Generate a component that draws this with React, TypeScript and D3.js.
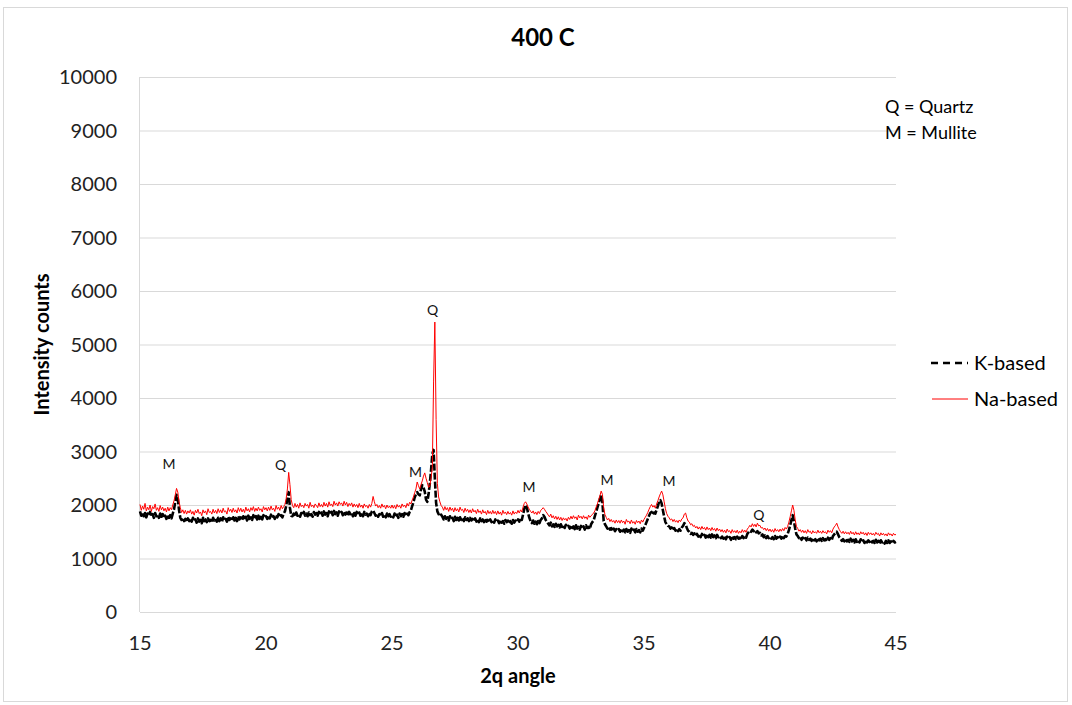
import React from "react";
import * as d3 from "d3";

// XRD scan, 2θ from 15° to 45° in 0.05° steps (one row of 20 readings per degree)
const scanStart = 15;
const scanStep = 0.05;

// Intensity counts, K-based geopolymer
const kBased = [
  1880, 1800, 1860, 1790, 1850, 1770, 1840, 1800, 1870, 1780, 1830, 1760, 1850, 1790, 1820, 1760, 1840, 1780, 1830, 1770,
  1800, 1740, 1820, 1760, 1810, 1750, 1840, 1920, 2060, 2190, 2120, 1900, 1760, 1720, 1760, 1700, 1740, 1690, 1750, 1700,
  1740, 1690, 1760, 1700, 1730, 1670, 1750, 1690, 1720, 1660, 1760, 1700, 1730, 1680, 1750, 1700, 1720, 1670, 1760, 1710,
  1740, 1690, 1760, 1700, 1750, 1680, 1770, 1710, 1740, 1690, 1780, 1720, 1750, 1700, 1770, 1710, 1760, 1700, 1790, 1730,
  1770, 1720, 1790, 1730, 1780, 1710, 1800, 1740, 1770, 1720, 1810, 1750, 1790, 1730, 1800, 1740, 1780, 1730, 1810, 1760,
  1790, 1740, 1800, 1750, 1820, 1760, 1790, 1740, 1810, 1770, 1830, 1780, 1810, 1770, 1840, 1880, 1980, 2120, 2240, 1950,
  1800, 1790, 1840, 1790, 1860, 1800, 1830, 1780, 1850, 1810, 1870, 1800, 1840, 1790, 1860, 1810, 1830, 1780, 1870, 1820,
  1850, 1800, 1870, 1810, 1860, 1800, 1880, 1820, 1850, 1790, 1880, 1830, 1870, 1810, 1890, 1830, 1860, 1800, 1880, 1840,
  1870, 1810, 1880, 1820, 1860, 1800, 1870, 1830, 1860, 1790, 1850, 1800, 1870, 1820, 1860, 1800, 1850, 1790, 1870, 1820,
  1840, 1790, 1860, 1810, 1880, 1900, 1850, 1800, 1840, 1780, 1830, 1790, 1850, 1780, 1820, 1770, 1840, 1790, 1830, 1780,
  1810, 1770, 1840, 1780, 1820, 1760, 1840, 1790, 1830, 1780, 1850, 1800, 1840, 1810, 1870, 1900, 1980, 2050, 2140, 2200,
  2240, 2200, 2180, 2290, 2370, 2330, 2250, 2100, 2060, 2200, 2400, 2650, 2950, 3030, 2500, 2040, 1880, 1830, 1790, 1820,
  1780, 1730, 1790, 1740, 1770, 1710, 1790, 1730, 1760, 1700, 1780, 1720, 1760, 1710, 1770, 1720, 1750, 1700, 1770, 1720,
  1750, 1700, 1760, 1710, 1740, 1690, 1750, 1690, 1730, 1680, 1750, 1700, 1730, 1680, 1740, 1690, 1720, 1670, 1730, 1680,
  1720, 1670, 1730, 1680, 1710, 1660, 1720, 1670, 1700, 1650, 1720, 1680, 1710, 1660, 1700, 1650, 1720, 1670, 1710, 1680,
  1730, 1690, 1760, 1720, 1820, 1930, 2000, 1960, 1850, 1760, 1700, 1660, 1710, 1650, 1690, 1640, 1700, 1660, 1720, 1750,
  1810, 1780, 1720, 1690, 1650, 1620, 1670, 1600, 1640, 1590, 1650, 1600, 1630, 1580, 1640, 1590, 1620, 1570, 1630, 1590,
  1610, 1560, 1620, 1570, 1600, 1550, 1620, 1560, 1590, 1540, 1610, 1560, 1600, 1540, 1620, 1570, 1590, 1550, 1640, 1680,
  1710, 1790, 1870, 1950, 2030, 2110, 2190, 2050, 1700, 1640, 1600, 1560, 1590, 1540, 1570, 1520, 1560, 1510, 1550, 1520,
  1550, 1500, 1560, 1510, 1540, 1490, 1550, 1500, 1530, 1480, 1560, 1510, 1540, 1490, 1550, 1500, 1530, 1490, 1560, 1520,
  1570, 1620, 1680, 1740, 1800, 1850, 1870, 1820, 1860, 1840, 1910, 1980, 2060, 2090, 2030, 1900, 1780, 1680, 1640, 1610,
  1600, 1560, 1580, 1530, 1570, 1520, 1560, 1510, 1550, 1520, 1580, 1610, 1660, 1640, 1570, 1520, 1500, 1460, 1480, 1440,
  1470, 1430, 1460, 1410, 1450, 1400, 1460, 1410, 1440, 1390, 1450, 1400, 1440, 1390, 1450, 1400, 1430, 1380, 1440, 1400,
  1420, 1380, 1410, 1370, 1420, 1360, 1410, 1370, 1400, 1350, 1420, 1370, 1400, 1360, 1410, 1370, 1390, 1350, 1420, 1380,
  1420, 1390, 1460, 1490, 1520, 1500, 1540, 1510, 1530, 1490, 1510, 1470, 1480, 1430, 1450, 1400, 1430, 1380, 1420, 1380,
  1410, 1370, 1400, 1360, 1420, 1370, 1400, 1360, 1410, 1370, 1430, 1380, 1420, 1410, 1460, 1530, 1620, 1720, 1810, 1700,
  1560, 1450, 1420, 1380, 1400, 1350, 1390, 1340, 1380, 1340, 1390, 1350, 1370, 1330, 1380, 1340, 1360, 1320, 1380, 1340,
  1370, 1330, 1380, 1340, 1360, 1320, 1390, 1350, 1380, 1350, 1420, 1450, 1480, 1500, 1450, 1400, 1370, 1330, 1360, 1320,
  1360, 1320, 1350, 1310, 1370, 1320, 1350, 1300, 1360, 1310, 1340, 1300, 1360, 1310, 1340, 1290, 1350, 1300, 1340, 1310,
  1340, 1300, 1330, 1290, 1350, 1300, 1330, 1280, 1340, 1300, 1320, 1280, 1330, 1290, 1340, 1290, 1320, 1280, 1330, 1300,
  1310,
];

// Intensity counts, Na-based geopolymer
const naBased = [
  2010, 1900, 1980, 1920, 2030, 1890, 1960, 1910, 2000, 1880, 1970, 1930, 2020, 1900, 1950, 1880, 1990, 1910, 1960, 1890,
  1940, 1870, 1960, 1890, 1950, 1910, 2000, 2080, 2190, 2310, 2240, 2060, 1950, 1860, 1910, 1840, 1900, 1830, 1890, 1850,
  1910, 1830, 1880, 1810, 1900, 1850, 1920, 1840, 1870, 1800, 1910, 1850, 1890, 1820, 1930, 1860, 1880, 1830, 1920, 1850,
  1900, 1840, 1930, 1860, 1910, 1850, 1940, 1870, 1890, 1830, 1950, 1880, 1920, 1860, 1940, 1870, 1910, 1850, 1950, 1880,
  1940, 1870, 1920, 1860, 1960, 1890, 1930, 1870, 1950, 1900, 1970, 1880, 1940, 1890, 1960, 1900, 1930, 1870, 1970, 1910,
  1950, 1890, 1960, 1900, 1980, 1910, 1940, 1880, 1990, 1920, 1960, 1900, 1990, 1930, 1970, 2010, 2120, 2300, 2610, 2380,
  2100, 1990, 1950, 2030, 1960, 2010, 1940, 2040, 1970, 2000, 1950, 2030, 1980, 2010, 1940, 2050, 1970, 2000, 1950, 2020,
  1990, 1950, 2040, 1970, 2010, 1960, 2050, 1980, 2030, 1960, 2060, 1990, 2020, 1970, 2070, 2000, 2040, 1980, 2060, 2010,
  2040, 1980, 2070, 2000, 2050, 1970, 2030, 1990, 2040, 1960, 2020, 1970, 2010, 1950, 2030, 1960, 2000, 1940, 2020, 1970,
  1990, 1940, 2010, 1960, 2030, 2160, 2060, 1980, 2010, 1950, 1990, 1940, 2020, 1960, 1990, 1930, 2000, 1950, 1980, 1940,
  2000, 1940, 1990, 1930, 2010, 1960, 1990, 1940, 2020, 1970, 2000, 1950, 2030, 1980, 2050, 2020, 2090, 2150, 2230, 2300,
  2430, 2360, 2300, 2380, 2450, 2540, 2600, 2500, 2420, 2330, 2350, 2500, 2700, 4300, 5420, 3600, 2400, 2150, 2060, 1990,
  1960, 1900, 1970, 1910, 1950, 1880, 1960, 1900, 1940, 1870, 1950, 1890, 1930, 1870, 1960, 1900, 1920, 1860, 1940, 1880,
  1920, 1860, 1910, 1850, 1930, 1870, 1900, 1840, 1920, 1860, 1890, 1830, 1910, 1850, 1880, 1820, 1900, 1840, 1880, 1830,
  1900, 1840, 1880, 1820, 1890, 1830, 1870, 1810, 1900, 1840, 1870, 1820, 1880, 1830, 1860, 1810, 1890, 1830, 1870, 1840,
  1900, 1850, 1910, 1870, 1960, 2030, 2060, 2020, 1960, 1920, 1880, 1850, 1890, 1830, 1870, 1820, 1880, 1840, 1900, 1920,
  1950, 1920, 1880, 1850, 1810, 1780, 1830, 1760, 1800, 1740, 1790, 1730, 1780, 1720, 1770, 1710, 1760, 1720, 1750, 1700,
  1770, 1730, 1790, 1740, 1800, 1750, 1780, 1720, 1810, 1760, 1790, 1740, 1800, 1750, 1780, 1730, 1810, 1770, 1800, 1820,
  1850, 1890, 1960, 2020, 2100, 2170, 2260, 2200, 1950, 1820, 1770, 1720, 1750, 1690, 1730, 1680, 1710, 1660, 1720, 1670,
  1710, 1660, 1720, 1670, 1700, 1640, 1730, 1680, 1700, 1650, 1720, 1660, 1690, 1640, 1710, 1670, 1700, 1650, 1720, 1680,
  1730, 1770, 1810, 1860, 1920, 1970, 2010, 1960, 1990, 1940, 2020, 2080, 2150, 2210, 2260, 2190, 2060, 1930, 1840, 1790,
  1760, 1720, 1740, 1690, 1730, 1680, 1710, 1670, 1720, 1690, 1740, 1760, 1830, 1850, 1760, 1700, 1680, 1630, 1650, 1600,
  1620, 1570, 1600, 1550, 1590, 1540, 1600, 1550, 1580, 1530, 1590, 1540, 1570, 1520, 1580, 1530, 1560, 1510, 1570, 1520,
  1550, 1500, 1540, 1490, 1530, 1480, 1550, 1500, 1520, 1470, 1540, 1490, 1520, 1480, 1530, 1470, 1510, 1480, 1540, 1490,
  1530, 1490, 1550, 1580, 1620, 1590, 1650, 1600, 1640, 1590, 1660, 1610, 1620, 1570, 1580, 1540, 1570, 1520, 1560, 1510,
  1550, 1500, 1540, 1490, 1560, 1510, 1540, 1500, 1550, 1510, 1560, 1520, 1580, 1550, 1600, 1680, 1780, 1890, 2000, 1900,
  1720, 1600, 1560, 1510, 1540, 1490, 1530, 1480, 1520, 1470, 1540, 1490, 1510, 1460, 1520, 1480, 1500, 1470, 1530, 1480,
  1510, 1470, 1520, 1480, 1500, 1460, 1530, 1490, 1520, 1480, 1550, 1590, 1620, 1660, 1590, 1540, 1500, 1470, 1510, 1460,
  1500, 1460, 1490, 1450, 1510, 1460, 1490, 1440, 1500, 1450, 1480, 1440, 1500, 1460, 1490, 1440, 1480, 1430, 1490, 1450,
  1480, 1440, 1470, 1430, 1490, 1450, 1470, 1420, 1480, 1440, 1470, 1430, 1460, 1420, 1480, 1440, 1460, 1420, 1470, 1440,
  1450,
];

// Phase markers: label, 2θ position, count level
const peakLabels = ["M", "Q", "M", "Q", "M", "M", "M", "Q"];
const peakAngles = [16.15, 20.58, 25.93, 26.61, 30.44, 33.53, 35.99, 39.56];
const peakCounts = [2673, 2654, 2523, 5551, 2243, 2374, 2364, 1720];

const xTicks = [15, 20, 25, 30, 35, 40, 45];
const yTicks = [0, 1000, 2000, 3000, 4000, 5000, 6000, 7000, 8000, 9000, 10000];

const seriesNames = ["K-based", "Na-based"];
const phaseKey = ["Q = Quartz", "M = Mullite"];

const W = 1072;
const H = 705;
const plot = { left: 140, right: 896, top: 77, bottom: 612 };
const font = "Lato, 'Open Sans', sans-serif";
const gridColor = "#d9d9d9";

export default function App() {
  const x = d3.scaleLinear().domain([15, 45]).range([plot.left, plot.right]);
  const y = d3.scaleLinear().domain([0, 10000]).range([plot.bottom, plot.top]);

  const toPoints = (vals: number[]) =>
    vals.map((v, i) => [scanStart + i * scanStep, v] as [number, number]);

  const line = d3
    .line<[number, number]>()
    .x((d) => x(d[0]))
    .y((d) => y(d[1]));

  const kPath = line(toPoints(kBased)) || "";
  const naPath = line(toPoints(naBased)) || "";

  return (
    <svg
      width={W}
      height={H}
      style={{ position: "absolute", left: 0, top: 0, background: "#fff" }}
    >
      <rect x={3.5} y={7.5} width={1064} height={694} fill="#fff" stroke={gridColor} />

      <text
        x={543}
        y={46}
        textAnchor="middle"
        fontFamily={font}
        fontWeight="bold"
        fontSize={24}
        fill="#000"
      >
        400 C
      </text>

      {/* gridlines */}
      {yTicks.map((t) => (
        <line
          key={"g" + t}
          x1={plot.left}
          x2={plot.right}
          y1={y(t) + 0.5}
          y2={y(t) + 0.5}
          stroke={gridColor}
          strokeWidth={1}
        />
      ))}
      <line
        x1={plot.left - 0.5}
        x2={plot.left - 0.5}
        y1={plot.top}
        y2={plot.bottom}
        stroke={gridColor}
        strokeWidth={1}
      />

      {/* y tick labels */}
      {yTicks.map((t) => (
        <text
          key={"yl" + t}
          x={117}
          y={y(t)}
          dy="0.35em"
          textAnchor="end"
          fontFamily={font}
          fontSize={20}
          fill="#222"
        >
          {t}
        </text>
      ))}

      {/* x tick labels */}
      {xTicks.map((t) => (
        <text
          key={"xl" + t}
          x={x(t)}
          y={650}
          textAnchor="middle"
          fontFamily={font}
          fontSize={20}
          fill="#222"
        >
          {t}
        </text>
      ))}

      <text
        x={518}
        y={683}
        textAnchor="middle"
        fontFamily={font}
        fontWeight="bold"
        fontSize={20}
        fill="#000"
      >
        2q angle
      </text>
      <text
        transform={`translate(49,${(plot.top + plot.bottom) / 2}) rotate(-90)`}
        textAnchor="middle"
        fontFamily={font}
        fontWeight="bold"
        fontSize={20}
        fill="#000"
      >
        Intensity counts
      </text>

      {/* series */}
      <path
        d={kPath}
        fill="none"
        stroke="#000"
        strokeWidth={2.6}
        strokeDasharray="7,2"
        strokeLinejoin="round"
      />
      <path d={naPath} fill="none" stroke="#ff0000" strokeWidth={1} strokeLinejoin="round" />

      {/* phase markers */}
      {peakLabels.map((lab, i) => (
        <text
          key={"p" + i}
          x={x(peakAngles[i])}
          y={y(peakCounts[i])}
          textAnchor="middle"
          fontFamily={font}
          fontSize={14}
          fill="#111"
        >
          {lab}
        </text>
      ))}

      {/* phase key */}
      {phaseKey.map((s, i) => (
        <text
          key={"k" + i}
          x={885}
          y={113 + i * 26}
          fontFamily={font}
          fontSize={18}
          fill="#000"
        >
          {s}
        </text>
      ))}

      {/* legend */}
      <line x1={931} x2={968} y1={363} y2={363} stroke="#000" strokeWidth={2.6} strokeDasharray="7,5" />
      <line x1={932} x2={968} y1={399} y2={399} stroke="#ff0000" strokeWidth={1} />
      {seriesNames.map((s, i) => (
        <text
          key={"l" + i}
          x={974}
          y={363 + i * 36}
          dy="0.35em"
          fontFamily={font}
          fontSize={20}
          fill="#000"
        >
          {s}
        </text>
      ))}
    </svg>
  );
}
